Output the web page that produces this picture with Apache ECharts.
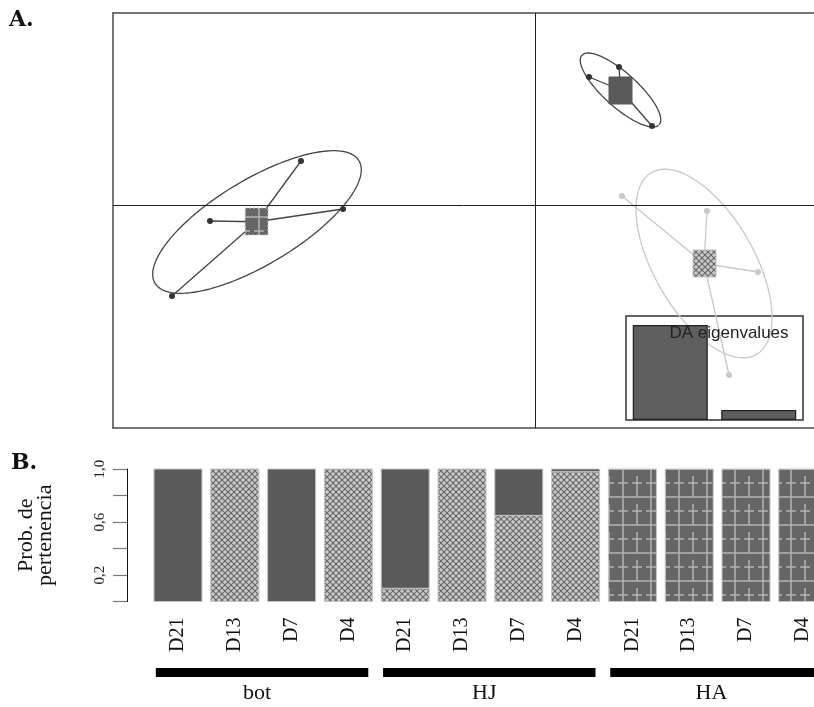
<!DOCTYPE html>
<html>
<head>
<meta charset="utf-8">
<script src="https://cdn.jsdelivr.net/npm/echarts@6/dist/echarts.min.js"></script>
<style>
  html, body { margin: 0; padding: 0; background: #fff; }
  #chart { width: 814px; height: 707px; }
</style>
</head>
<body>
<div id="chart"></div>
<script>
// ---- A. DAPC scores (DA1, DA2) of each sample, by site ----
const botPoints = [[-6.50, -0.32], [-4.68, 0.88], [-3.84, -0.08], [-7.26, -1.82]];
const hjPoints  = [[1.08, 2.56], [1.68, 2.76], [2.34, 1.58], [1.74, 2.30]];
const haPoints  = [[1.74, 0.18], [3.44, -0.12], [4.46, -1.34], [3.88, -3.40]];

// Inertia ellipses: [centre x, centre y, semi-major, semi-minor, angle (deg)]
const botEllipse = [-5.56, -0.34, 2.38, 0.85, 31];
const hjEllipse  = [1.71, 2.30, 1.04, 0.34, -42];
const haEllipse  = [3.38, -1.17, 2.10, 1.00, -60];

// Plot window of the score plot
const scoreX = [-8.44, 5.58];
const scoreY = [-4.46, 3.84];

// Discriminant eigenvalues (inset)
const eigenvalues = [285.6, 30.1];

// ---- B. membership probabilities ----
const sites = ['bot', 'HJ', 'HA'];
const days = ['D21', 'D13', 'D7', 'D4'];
const probHatch = [0, 1, 0, 1,  0.10, 1, 0.65, 0.98,  0, 0, 0, 0];
const probSolid = [1, 0, 1, 0,  0.90, 0, 0.35, 0.02,  0, 0, 0, 0];
const probPlaid = [0, 0, 0, 0,  0, 0, 0, 0,  1, 1, 1, 1];
const probTicks = [0.2, 0.6, 1.0];

// ---------------------------------------------------------------
const DARK = '#5a5a5a';
const LIGHT = '#c8c8c8';

function hatchTile() {
  const c = document.createElement('canvas');
  c.width = 6; c.height = 6;
  const g = c.getContext('2d');
  g.fillStyle = '#c9c9c9';
  g.fillRect(0, 0, 6, 6);
  g.strokeStyle = '#666';
  g.lineWidth = 1.1;
  g.beginPath();
  g.moveTo(-1, -1); g.lineTo(7, 7);
  g.moveTo(7, -1); g.lineTo(-1, 7);
  g.stroke();
  return c;
}

function plaidTile() {
  const c = document.createElement('canvas');
  c.width = 28; c.height = 28;
  const g = c.getContext('2d');
  g.fillStyle = '#666';
  g.fillRect(0, 0, 28, 28);
  g.strokeStyle = '#b4b4b4';
  g.lineWidth = 1.5;
  g.beginPath();
  g.moveTo(0, 21); g.lineTo(28, 21);
  g.moveTo(2, 7); g.lineTo(12, 7);
  g.moveTo(16, 7); g.lineTo(26, 7);
  g.moveTo(7, 0); g.lineTo(7, 28);
  g.moveTo(21, 0); g.lineTo(21, 21);
  g.stroke();
  return c;
}

const hatch = { image: hatchTile(), repeat: 'repeat' };
const plaid = { image: plaidTile(), repeat: 'repeat' };

function ellipsePath([cx, cy, a, b, deg]) {
  const r = deg * Math.PI / 180, pts = [];
  for (let i = 0; i <= 160; i++) {
    const t = i / 160 * 2 * Math.PI;
    const ex = a * Math.cos(t), ey = b * Math.sin(t);
    pts.push([cx + ex * Math.cos(r) - ey * Math.sin(r),
              cy + ex * Math.sin(r) + ey * Math.cos(r)]);
  }
  return pts;
}

function centroid(pts) {
  const n = pts.length;
  return [pts.reduce((s, p) => s + p[0], 0) / n, pts.reduce((s, p) => s + p[1], 0) / n];
}

// one cluster = ellipse + star segments + points + centre box
function clusterSeries(points, ellipse, lineColor, dotColor, boxFill, boxBorder, boxDash) {
  const c = centroid(points);
  return [
    {
      type: 'line', xAxisIndex: 0, yAxisIndex: 0, z: 2,
      data: ellipsePath(ellipse), showSymbol: false, symbol: 'none',
      lineStyle: { color: lineColor, width: 1.3 }, silent: true
    },
    {
      type: 'lines', coordinateSystem: 'cartesian2d', xAxisIndex: 0, yAxisIndex: 0, z: 3,
      data: points.map(p => ({ coords: [c, p] })),
      lineStyle: { color: lineColor, width: 1.3, opacity: 1 }, silent: true
    },
    {
      type: 'scatter', xAxisIndex: 0, yAxisIndex: 0, z: 4,
      data: points, symbolSize: 6,
      itemStyle: { color: dotColor, opacity: 1 }, silent: true
    },
    {
      type: 'custom', xAxisIndex: 0, yAxisIndex: 0, z: 5, silent: true,
      data: [c], encode: { x: 0, y: 1 },
      renderItem: (params, api) => {
        const p = api.coord([api.value(0), api.value(1)]);
        return {
          type: 'rect',
          shape: { x: Math.round(p[0] - 11.5), y: Math.round(p[1] - 13.5), width: 23, height: 27 },
          style: { fill: boxFill, stroke: boxBorder, lineWidth: 1, lineDash: boxDash }
        };
      }
    }
  ];
}

// stacked segments of each membership bar: [sample index, from, to]
const segments = [];
probHatch.forEach((h, i) => {
  const parts = [[h, hatch], [probSolid[i], DARK], [probPlaid[i], plaid]];
  let base = 0;
  parts.forEach(([v, fill]) => {
    if (v > 0) segments.push({ value: [i, base, base + v], fill });
    base += v;
  });
});
const sampleIdx = probHatch.map((_, i) => i);

const frameLine = { show: true, onZero: false, lineStyle: { color: '#4a4a4a', width: 1.5 } };

const chart = echarts.init(document.getElementById('chart'), null, { renderer: 'canvas' });

const option = {
  animation: false,
  backgroundColor: '#fff',
  grid: [
    { left: 113, top: 13, right: 0, height: 415 },
    { left: 626, top: 316, width: 177, height: 104, show: true,
      borderColor: '#333', borderWidth: 1.5, backgroundColor: 'transparent' },
    { left: 149.6, top: 469, right: 0, height: 132.5 }
  ],
  xAxis: [
    { gridIndex: 0, type: 'value', min: scoreX[0], max: scoreX[1], position: 'bottom',
      axisLine: frameLine, axisTick: { show: false }, axisLabel: { show: false }, splitLine: { show: false } },
    { gridIndex: 0, type: 'value', min: scoreX[0], max: scoreX[1], position: 'top',
      axisLine: frameLine, axisTick: { show: false }, axisLabel: { show: false }, splitLine: { show: false } },
    { gridIndex: 1, type: 'category', data: eigenvalues.map((v, i) => 'DA' + (i + 1)), show: false },
    { gridIndex: 2, type: 'value', min: -0.5, max: 11.197,
      axisLine: { show: false, onZero: false }, axisTick: { show: false }, splitLine: { show: false },
      axisLabel: { rotate: 90, margin: 16, customValues: sampleIdx,
        formatter: v => days[Math.round(v) % days.length],
        fontFamily: 'Liberation Serif', fontSize: 20, color: '#111' } }
  ],
  yAxis: [
    { gridIndex: 0, type: 'value', min: scoreY[0], max: scoreY[1], position: 'left',
      axisLine: frameLine, axisTick: { show: false }, axisLabel: { show: false }, splitLine: { show: false } },
    { gridIndex: 1, type: 'value', min: 0, max: v => v.max * 104 / 95, show: false },
    { gridIndex: 2, type: 'value', min: 0, max: 1, interval: 0.2, offset: 22.6, position: 'left',
      name: 'Prob. de\npertenencia', nameLocation: 'middle', nameGap: 72,
      nameTextStyle: { fontFamily: 'Liberation Serif', fontSize: 22, lineHeight: 19, color: '#111' },
      axisLine: { show: true, onZero: false, lineStyle: { color: '#111', width: 1 } },
      axisTick: { show: true, length: 14, lineStyle: { color: '#777', width: 1.2 } },
      splitLine: { show: false },
      axisLabel: { rotate: 90, margin: 19, fontFamily: 'Liberation Serif', fontSize: 15, color: '#222',
        formatter: v => probTicks.some(t => Math.abs(t - v) < 1e-6) ? v.toFixed(1).replace('.', ',') : '' } }
  ],
  graphic: [
    { type: 'text', left: 9, top: 9, style: { text: 'A.', font: 'bold 22px "DejaVu Serif"', fill: '#111' } },
    { type: 'text', left: 11, top: 452, style: { text: 'B.', font: 'bold 22px "DejaVu Serif"', fill: '#111' } },
    { type: 'text', x: 729, y: 333, z: 20,
      style: { text: 'DA eigenvalues', font: '17px "Liberation Sans"', fill: '#222',
               align: 'center', verticalAlign: 'middle' } }
  ],
  series: [
    // zero reference lines of the score plot
    {
      type: 'line', xAxisIndex: 0, yAxisIndex: 0, data: [], z: 1,
      markLine: { silent: true, symbol: 'none', label: { show: false },
        lineStyle: { color: '#222', width: 1, type: 'solid' },
        data: [{ xAxis: 0 }, { yAxis: 0 }] }
    },
    ...clusterSeries(haPoints, haEllipse, LIGHT, LIGHT, hatch, '#c4c4c4', null),
    ...clusterSeries(botPoints, botEllipse, '#444', '#333', plaid, '#c8c8c8', [2, 2]),
    ...clusterSeries(hjPoints, hjEllipse, '#444', '#333', DARK, '#555', null),
    // eigenvalue inset
    {
      type: 'bar', xAxisIndex: 2, yAxisIndex: 1, data: eigenvalues, barWidth: 75, z: 10,
      itemStyle: { color: '#5f5f5f', borderColor: '#222', borderWidth: 1.3 }, silent: true
    },
    // membership bars (stacked segments)
    {
      type: 'custom', xAxisIndex: 3, yAxisIndex: 2, silent: true, clip: false,
      data: segments.map(s => s.value),
      encode: { x: 0, y: [1, 2] },
      renderItem: (params, api) => {
        const band = api.size([1, 0])[0];
        const lo = api.coord([api.value(0), api.value(1)]);
        const hi = api.coord([api.value(0), api.value(2)]);
        const w = band * 0.845;
        return {
          type: 'rect',
          shape: { x: lo[0] - w / 2, y: hi[1], width: w, height: lo[1] - hi[1] },
          style: { fill: segments[params.dataIndex].fill, stroke: '#c4c4c4', lineWidth: 1 }
        };
      }
    },
    // site brackets under the sample labels
    {
      type: 'custom', xAxisIndex: 3, yAxisIndex: 2, clip: false, silent: true,
      data: sites.map((s, i) => [i * days.length, i * days.length + days.length - 1, 0]),
      encode: { x: [0, 1], y: 2 },
      renderItem: (params, api) => {
        const band = api.size([1, 0])[0];
        const p0 = api.coord([api.value(0), 0]);
        const p1 = api.coord([api.value(1), 0]);
        const x0 = p0[0] - band * 0.39, x1 = p1[0] + band * 0.35;
        const y = p0[1] + 66.5;
        return {
          type: 'group',
          children: [
            { type: 'rect', shape: { x: x0, y: y, width: x1 - x0, height: 9 },
              style: { fill: '#000' } },
            { type: 'text', x: (x0 + x1) / 2 - 5, y: y + 25,
              style: { text: sites[params.dataIndex], font: '22px "Liberation Serif"', fill: '#111',
                       align: 'center', verticalAlign: 'middle' } }
          ]
        };
      }
    }
  ]
};

chart.setOption(option);
</script>
</body>
</html>
